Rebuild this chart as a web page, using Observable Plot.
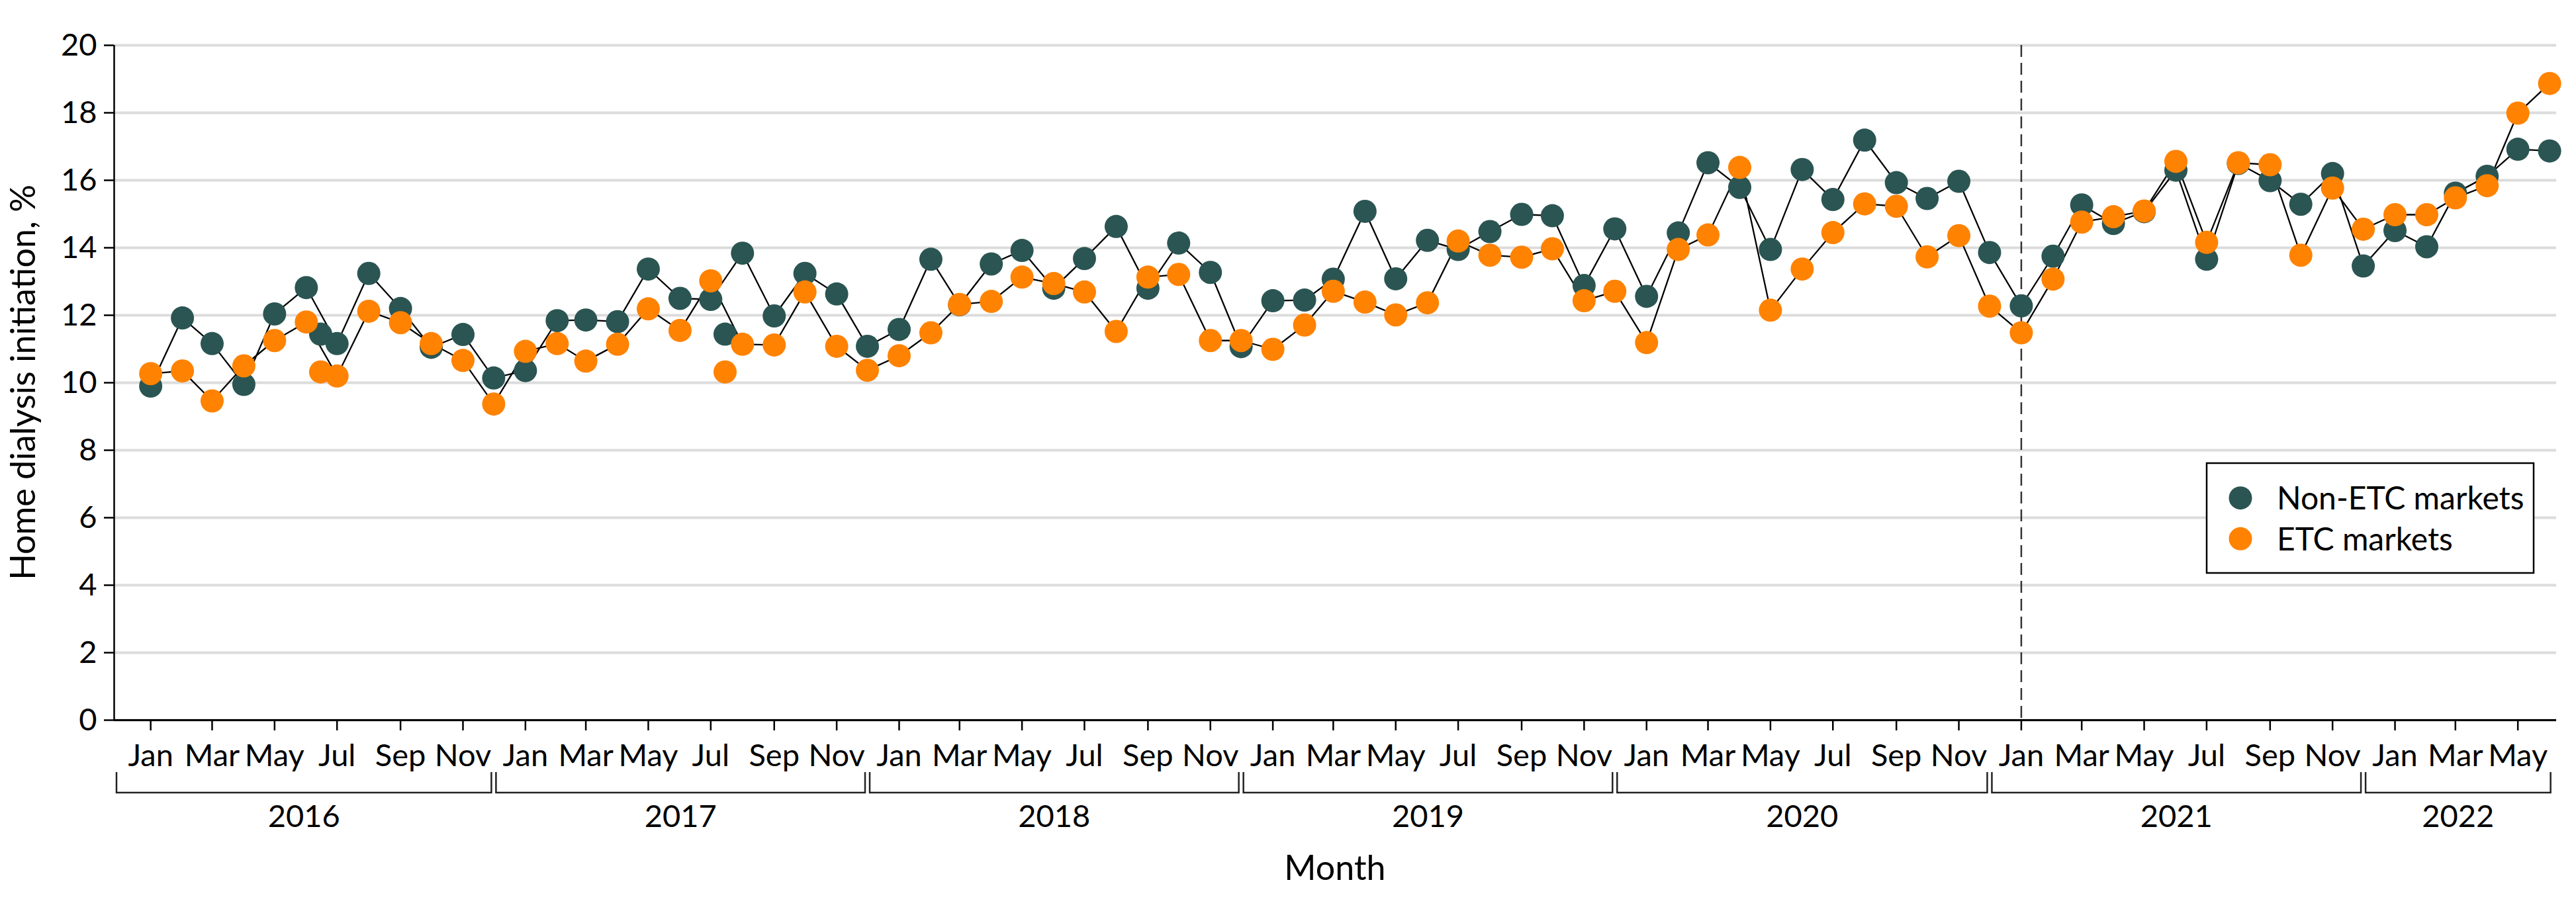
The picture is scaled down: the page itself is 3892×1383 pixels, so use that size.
<!DOCTYPE html>
<html>
<head>
<meta charset="utf-8">
<script src="https://cdn.jsdelivr.net/npm/d3@7"></script>
<script src="https://cdn.jsdelivr.net/npm/@observablehq/plot@0.6"></script>
<style>
  html, body { margin: 0; padding: 0; background: #ffffff; }
  #chart svg { display: block; }
</style>
</head>
<body>
<div id="chart"></div>
<script>
// ---------- data ----------
const firstMonth = "2016-01-01";
const lastMonth = "2022-06-01";
const years = [2016, 2017, 2018, 2019, 2020, 2021, 2022];
const seriesNames = ["Non-ETC markets", "ETC markets"];
const seriesColors = ["#2a5553", "#ff8200"];
const yTicks = [0, 2, 4, 6, 8, 10, 12, 14, 16, 18, 20];
const interventionMonth = "2021-01-01";

// Home dialysis initiation (%), Jan 2016 – Jun 2022
const nonEtc = [
  9.90, 11.92, 11.16, 9.95, 12.04, 12.82, 11.16, 13.24, 12.20, 11.05, 11.43, 10.14,
  10.36, 11.84, 11.86, 11.81, 13.37, 12.50, 12.47, 13.84, 11.98, 13.24, 12.63, 11.08,
  11.58, 13.66, 12.31, 13.52, 13.92, 12.80, 13.68, 14.63, 12.80, 14.14, 13.27, 11.07,
  12.43, 12.45, 13.07, 15.08, 13.08, 14.22, 13.95, 14.48, 14.99, 14.95, 12.88, 14.56,
  12.56, 14.44, 16.52, 15.79, 13.95, 16.32, 15.43, 17.19, 15.93, 15.46, 15.97, 13.86,
  12.28, 13.75, 15.27, 14.72, 15.07, 16.30, 13.66, 16.50, 15.99, 15.29, 16.20, 13.46,
  14.51, 14.03, 15.62, 16.12, 16.92, 16.87
];
const etc = [
  10.27, 10.35, 9.46, 10.50, 11.25, 11.80, 10.20, 12.12, 11.78, 11.16, 10.66, 9.37,
  10.93, 11.16, 10.64, 11.14, 12.19, 11.55, 13.02, 11.14, 11.12, 12.69, 11.08, 10.37,
  10.80, 11.48, 12.32, 12.41, 13.13, 12.94, 12.69, 11.52, 13.13, 13.21, 11.25, 11.25,
  10.99, 11.71, 12.71, 12.39, 12.01, 12.37, 14.20, 13.78, 13.72, 13.97, 12.43, 12.71,
  11.19, 13.95, 14.38, 16.38, 12.15, 13.37, 14.45, 15.30, 15.23, 13.73, 14.36, 12.27,
  11.48, 13.07, 14.76, 14.92, 15.09, 16.56, 14.16, 16.52, 16.46, 13.78, 15.77, 14.55,
  14.98, 14.98, 15.48, 15.84, 17.99, 18.87
];
// two stray unconnected markers visible in the figure
const extraDates = ["2016-06-15", "2017-07-15"];
const extraNonEtc = [11.44, 11.44];
const extraEtc = [10.32, 10.32];

// ---------- tidy tables ----------
const months = d3.utcMonth.range(new Date(firstMonth), d3.utcMonth.offset(new Date(lastMonth), 1));
const rows = [
  ...months.map((d, i) => ({date: d, series: seriesNames[0], value: nonEtc[i]})),
  ...months.map((d, i) => ({date: d, series: seriesNames[1], value: etc[i]}))
];
const extraRows = [
  ...extraDates.map((d, i) => ({date: new Date(d), series: seriesNames[0], value: extraNonEtc[i]})),
  ...extraDates.map((d, i) => ({date: new Date(d), series: seriesNames[1], value: extraEtc[i]}))
];
const tickDates = months.filter(d => d.getUTCMonth() % 2 === 0);

const W = 3892, H = 1383;
const mL = 172, mR = 30, mT = 68, mB = 295;
const xDomain = [new Date("2015-11-26T08:00:00Z"), new Date("2022-06-07T17:00:00Z")];
const FONT = "Lato, 'Liberation Sans', sans-serif";

const chart = Plot.plot({
  width: W, height: H,
  marginLeft: mL, marginRight: mR, marginTop: mT, marginBottom: mB,
  style: {fontFamily: FONT, fontSize: "47px", background: "#ffffff", color: "#000"},
  x: {type: "utc", domain: xDomain},
  y: {domain: [0, 20]},
  color: {domain: seriesNames, range: seriesColors},
  marks: [
    Plot.gridY(yTicks, {stroke: "#dcdcdc", strokeOpacity: 1, strokeWidth: 4}),
    Plot.axisY({ticks: yTicks, tickSize: 15, tickPadding: 11, label: null, fontSize: 47, strokeWidth: 2.5}),
    Plot.axisX({ticks: tickDates, tickFormat: d3.utcFormat("%b"), tickSize: 16, tickPadding: 20, label: null, fontSize: 47, strokeWidth: 2.5}),
    Plot.ruleX([interventionMonth].map(d => new Date(d)), {stroke: "#333", strokeWidth: 2.5, strokeDasharray: "18,9"}),
    Plot.line(rows, {x: "date", y: "value", z: "series", stroke: "#000", strokeWidth: 2.3}),
    Plot.dot(extraRows, {x: "date", y: "value", fill: "series", r: 17.5}),
    Plot.dot(rows, {x: "date", y: "value", fill: "series", r: 17.5}),
    Plot.ruleX([xDomain[0]], {stroke: "#000", strokeWidth: 2.5}),
    Plot.ruleY([0], {stroke: "#000", strokeWidth: 3})
  ]
});

document.getElementById("chart").appendChild(chart);

// ---------- year brackets, titles, legend ----------
const svg = d3.select(chart);
const xs = chart.scale("x");
const g = svg.append("g").attr("font-family", FONT);
const bTop = 1167, bBot = 1198;
years.forEach((y, i) => {
  const start = i === 0 ? xs.apply(xDomain[0]) + 4 : xs.apply(new Date(Date.UTC(y - 1, 11, 1))) + 4;
  const end = i === years.length - 1 ? xs.apply(new Date(lastMonth)) + 2 : xs.apply(new Date(Date.UTC(y, 11, 1))) - 3;
  g.append("path")
    .attr("d", `M${start},${bTop}V${bBot}H${end}V${bTop}`)
    .attr("fill", "none").attr("stroke", "#222").attr("stroke-width", 2.5);
  g.append("text")
    .attr("x", (start + end) / 2).attr("y", 1250)
    .attr("text-anchor", "middle").attr("font-size", 47).attr("fill", "#000")
    .text(String(y));
});

g.append("text")
  .attr("x", (mL + W - mR) / 2).attr("y", 1330)
  .attr("text-anchor", "middle").attr("font-size", 52).attr("fill", "#000")
  .text("Month");

g.append("text")
  .attr("transform", `translate(53,${(mT + H - mB) / 2}) rotate(-90)`)
  .attr("text-anchor", "middle").attr("font-size", 52).attr("fill", "#000")
  .text("Home dialysis initiation, %");

const lg = g.append("g");
lg.append("rect").attr("x", 3334).attr("y", 700).attr("width", 494).attr("height", 166)
  .attr("fill", "#fff").attr("stroke", "#000").attr("stroke-width", 2.5);
const cs = chart.scale("color");
seriesNames.forEach((name, i) => {
  const cy = 752.7 + i * 61.6;
  lg.append("circle").attr("cx", 3385).attr("cy", cy).attr("r", 17.5).attr("fill", cs.apply(name));
  lg.append("text").attr("x", 3440).attr("y", cy + 17.5)
    .attr("text-anchor", "start").attr("font-size", 48).attr("fill", "#000").text(name);
});
</script>
</body>
</html>
